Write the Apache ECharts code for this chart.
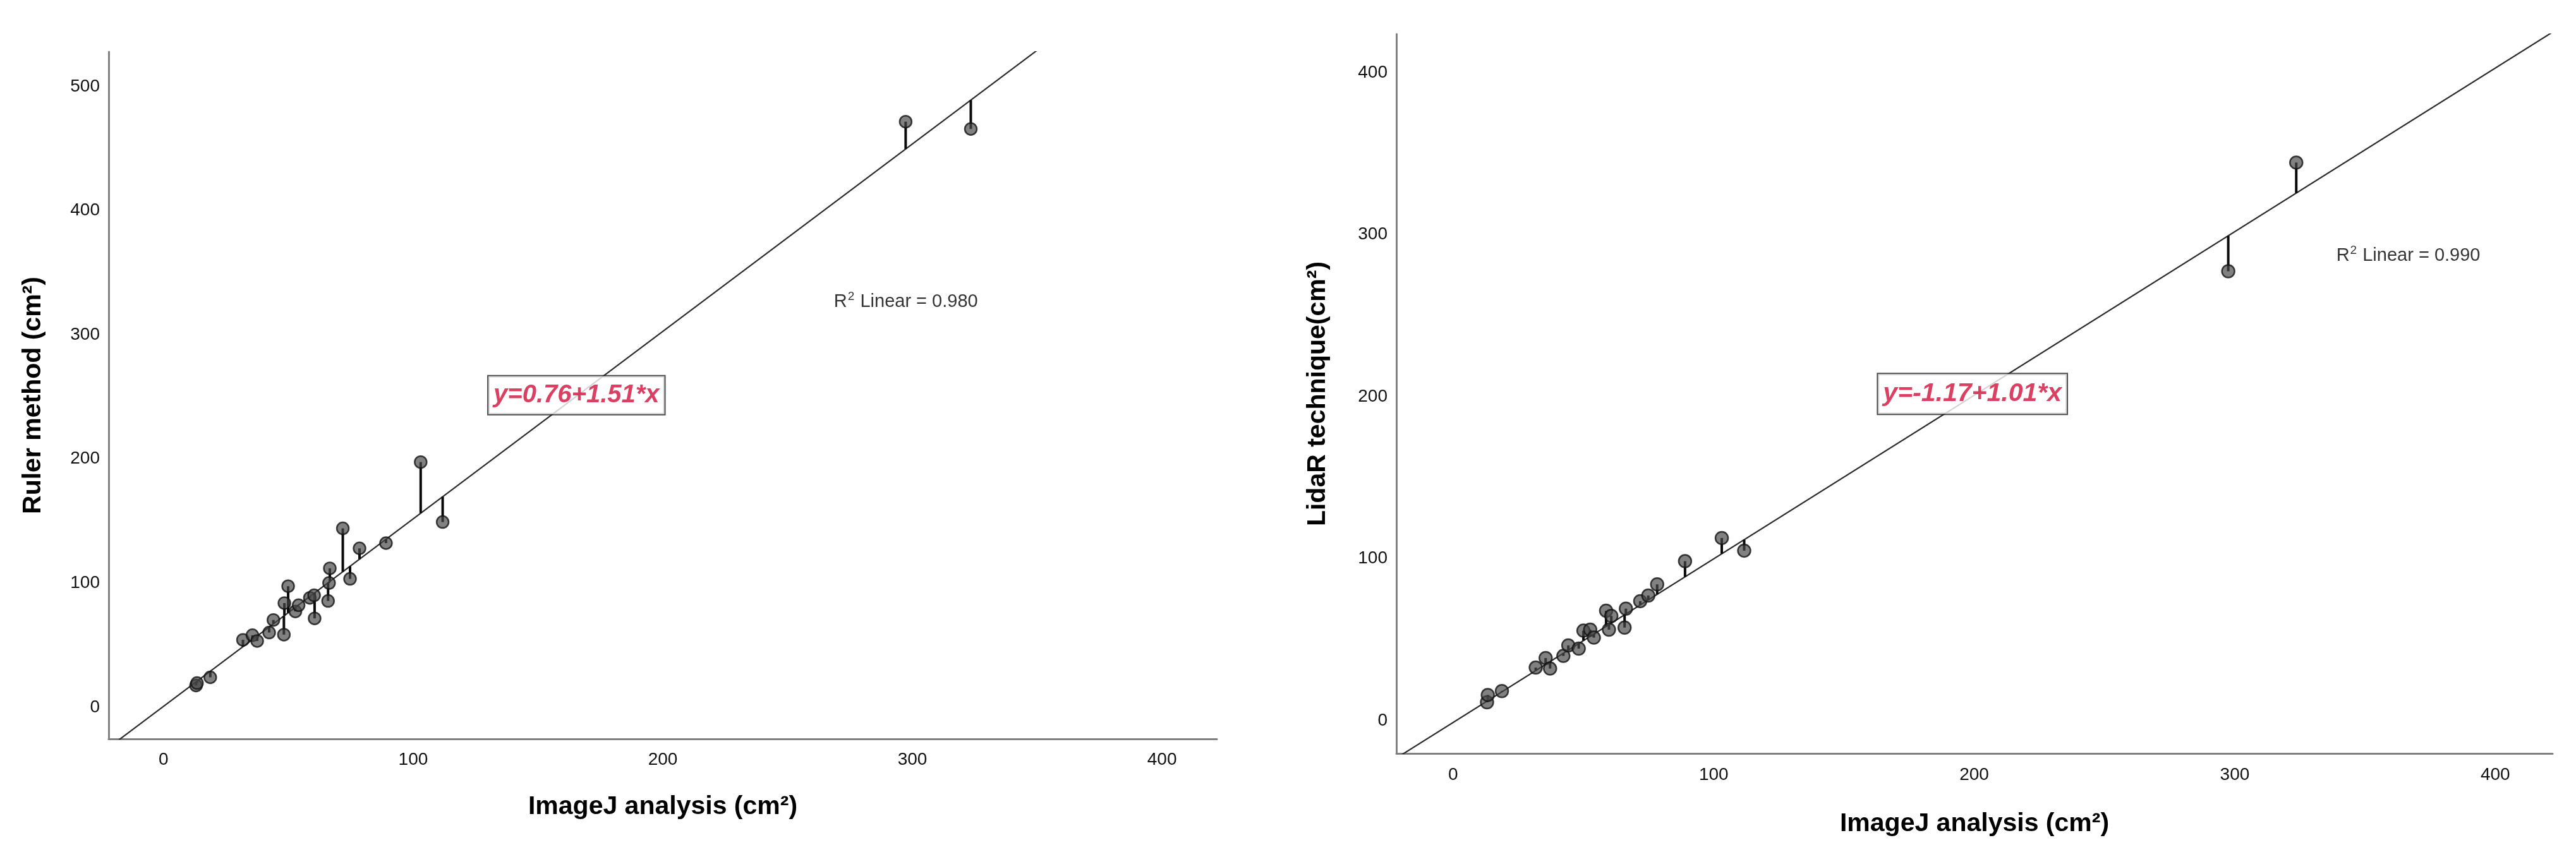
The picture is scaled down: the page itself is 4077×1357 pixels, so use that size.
<!DOCTYPE html>
<html>
<head>
<meta charset="utf-8">
<script src="https://cdn.jsdelivr.net/npm/echarts@6.0.0/dist/echarts.min.js"></script>
<style>
html,body{margin:0;padding:0;background:#fff;}
#chart{width:4077px;height:1357px;}
</style>
</head>
<body>
<div id="chart"></div>
<script>
// ---------- data ----------
const xTickValues = [0, 100, 200, 300, 400];
const rulerTickValues = [0, 100, 200, 300, 400, 500];
const lidarTickValues = [0, 100, 200, 300, 400];

// Left panel: ImageJ (x) vs Ruler method (y)
const imagejLeft = [13.0, 13.4, 18.7, 31.8, 35.6, 37.5, 42.3, 44.0, 48.2, 48.4, 49.9, 52.8, 54.1, 58.6, 60.3, 60.5, 65.9, 66.3, 66.6, 71.8, 74.7, 78.5, 89.1, 103.0, 111.8, 297.3, 323.4];
const rulerValues = [17.5, 19.5, 24.1, 54.3, 58.0, 53.4, 60.2, 70.3, 58.5, 83.9, 97.5, 77.2, 82.2, 88.1, 90.2, 71.6, 85.6, 100.1, 111.9, 144.1, 103.4, 128.0, 132.2, 197.5, 149.2, 471.7, 465.8];

// Right panel: ImageJ (x) vs LidaR technique (y)
const imagejRight = [13.0, 13.3, 18.7, 31.7, 35.5, 37.2, 42.3, 44.2, 48.2, 50.0, 52.6, 54.0, 58.7, 59.8, 60.7, 65.8, 66.3, 71.8, 74.9, 78.3, 89.0, 103.1, 111.7, 297.5, 323.6];
const lidarValues = [11.3, 15.8, 18.2, 32.7, 38.6, 32.1, 39.9, 46.4, 44.4, 55.5, 56.1, 51.2, 67.8, 56.1, 64.6, 57.4, 69.1, 73.7, 77.2, 84.1, 98.4, 112.7, 104.9, 277.4, 344.5];

// Fit coefficients and R² as printed on the chart
const rulerFit = { intercept: 0.76, slope: 1.51 };
const lidarFit = { intercept: -1.17, slope: 1.01 };
const rulerEquation = 'y=0.76+1.51*x';
const lidarEquation = 'y=-1.17+1.01*x';
const rulerR2 = '0.980';
const lidarR2 = '0.990';

const xTitle = 'ImageJ analysis (cm²)';
const rulerTitle = 'Ruler method (cm²)';
const lidarTitle = 'LidaR technique(cm²)';

// ---------- helpers ----------
const FONT = "'Liberation Sans', Arial, Helvetica, sans-serif";
const fit = (f, x) => f.intercept + f.slope * x;

function points(xs, ys) { return xs.map((x, i) => [x, ys[i]]); }
function stems(xs, ys, f) { return xs.map((x, i) => [x, ys[i], fit(f, x)]); }
function fitLine(f, xa, xb) { return [[xa, fit(f, xa)], [xb, fit(f, xb)]]; }

function xAxisCfg(gridIndex, min, max, nameGap, margin, fontSize) {
  return {
    type: 'value', gridIndex, min, max,
    name: xTitle, nameLocation: 'middle', nameGap,
    nameTextStyle: { fontFamily: FONT, fontWeight: 'bold', fontSize: fontSize + 13, color: '#000' },
    axisLine: { show: true, onZero: false, lineStyle: { color: '#808080', width: 3 } },
    axisTick: { show: false },
    splitLine: { show: false },
    axisLabel: { customValues: xTickValues, margin, fontFamily: FONT, fontSize, color: '#111' }
  };
}
function yAxisCfg(gridIndex, min, max, name, ticks, nameGap, margin, fontSize) {
  return {
    type: 'value', gridIndex, min, max,
    name, nameLocation: 'middle', nameGap,
    nameTextStyle: { fontFamily: FONT, fontWeight: 'bold', fontSize: fontSize + 13, color: '#000' },
    axisLine: { show: true, onZero: false, lineStyle: { color: '#808080', width: 3 } },
    axisTick: { show: false },
    splitLine: { show: false },
    axisLabel: { customValues: ticks, margin, fontFamily: FONT, fontSize, color: '#111' }
  };
}
function stemSeries(idx, data) {
  return {
    type: 'custom', xAxisIndex: idx, yAxisIndex: idx, z: 3, clip: true,
    renderItem(params, api) {
      const p1 = api.coord([api.value(0), api.value(1)]);
      const p2 = api.coord([api.value(0), api.value(2)]);
      return { type: 'line', shape: { x1: p1[0], y1: p1[1], x2: p2[0], y2: p2[1] },
               style: { stroke: '#0a0a0a', lineWidth: 4 } };
    },
    encode: { x: 0, y: 1 },
    data
  };
}
function pointSeries(idx, data, size) {
  return {
    type: 'scatter', xAxisIndex: idx, yAxisIndex: idx, z: 4,
    symbol: 'circle', symbolSize: size,
    itemStyle: { color: 'rgba(70,70,70,0.85)', borderColor: '#111', borderWidth: 2.5 },
    data
  };
}
function lineSeries(idx, data) {
  return {
    type: 'line', xAxisIndex: idx, yAxisIndex: idx, z: 2, clip: true,
    showSymbol: false, symbol: 'none', silent: true,
    lineStyle: { color: '#2a2a2a', width: 2.2 },
    data
  };
}
function boxLabel(idx, pos, text, fontSize, padding) {
  return {
    type: 'scatter', xAxisIndex: idx, yAxisIndex: idx, z: 6, symbolSize: 0, silent: true,
    data: [pos],
    label: {
      show: true, position: 'inside', formatter: text,
      fontFamily: FONT, fontSize, fontWeight: 'bold', fontStyle: 'italic', color: '#d0103a',
      backgroundColor: '#fff', borderColor: '#222', borderWidth: 2, padding
    }
  };
}
function r2Label(idx, pos, val, fontSize) {
  return {
    type: 'scatter', xAxisIndex: idx, yAxisIndex: idx, z: 6, symbolSize: 0, silent: true,
    data: [pos],
    label: {
      show: true, position: 'inside',
      formatter: '{r|R}{s|2}{r| Linear = ' + val + '}',
      rich: {
        r: { fontFamily: FONT, fontSize, color: '#000' },
        s: { fontFamily: FONT, fontSize: Math.round(fontSize * 0.66), color: '#000', padding: [0, 1, 16, 1] }
      }
    }
  };
}

const chart = echarts.init(document.getElementById('chart'), null, { renderer: 'canvas' });
chart.setOption({
  backgroundColor: '#fff',
  animation: false,
  grid: [
    { left: 172, top: 82, width: 1754, height: 1088 },
    { left: 2210, top: 54, width: 1830, height: 1139 }
  ],
  xAxis: [
    xAxisCfg(0, -22, 422, 87, 19, 28),
    xAxisCfg(1, -21.8, 422, 91, 20, 28)
  ],
  yAxis: [
    yAxisCfg(0, -25.5, 528, rulerTitle, rulerTickValues, 99, 14, 28),
    yAxisCfg(1, -20.3, 423.8, lidarTitle, lidarTickValues, 104, 14, 28)
  ],
  series: [
    lineSeries(0, fitLine(rulerFit, -40, 440)),
    stemSeries(0, stems(imagejLeft, rulerValues, rulerFit)),
    pointSeries(0, points(imagejLeft, rulerValues), 19),
    boxLabel(0, [165.4, 251.4], rulerEquation, 40, [10, 8, 10, 8]),
    r2Label(0, [297.4, 326.6], rulerR2, 29),

    lineSeries(1, fitLine(lidarFit, -40, 440)),
    stemSeries(1, stems(imagejRight, lidarValues, lidarFit)),
    pointSeries(1, points(imagejRight, lidarValues), 20),
    boxLabel(1, [199.3, 201.7], lidarEquation, 41, [11, 8, 11, 8]),
    r2Label(1, [366.6, 286.9], lidarR2, 29)
  ]
});
</script>
</body>
</html>
